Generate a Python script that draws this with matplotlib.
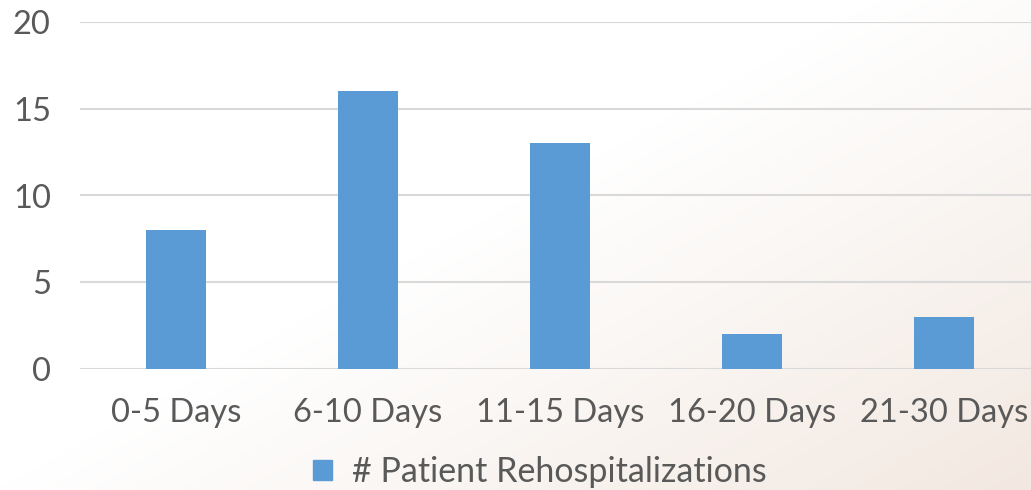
import numpy as np
import matplotlib
matplotlib.use("Agg")
import matplotlib.pyplot as plt
from matplotlib.patches import Patch

categories = ["0-5 Days", "6-10 Days", "11-15 Days", "16-20 Days", "21-30 Days"]
rehosp = [8, 16, 13, 2, 3]
yticks = [0, 5, 10, 15, 20]

plt.rcParams["font.family"] = ["Lato", "DejaVu Sans"]
text_col = "#595959"

fig = plt.figure(figsize=(10.31, 4.9), dpi=100)

# soft background gradient (white -> warm tint toward bottom right)
bg = fig.add_axes([0, 0, 1, 1], zorder=-10)
yy, xx = np.mgrid[0:1:200j, 0:1:400j]  # yy=0 top row, yy=1 bottom row
t = np.clip((xx * 0.7 + yy * 0.6) - 0.6, 0, 1) / 0.7
c0 = np.array([1.0, 1.0, 1.0])
c1 = np.array([0.95, 0.91, 0.88])
img = c0 + (c1 - c0) * t[..., None]
bg.imshow(img, aspect="auto", extent=[0, 1, 0, 1], origin="upper")
bg.axis("off")

ax = fig.add_axes([80 / 1031, 121 / 490, 960 / 1031, 347 / 490])
ax.patch.set_alpha(0)
x = np.arange(len(categories))
ax.bar(x, rehosp, width=0.31, color="#5B9BD5", zorder=3)
ax.set_xlim(-0.5, len(categories) - 0.5)
ax.set_ylim(0, 20)
ax.set_yticks(yticks)
ax.set_xticks(x)
ax.set_xticklabels(categories)
ax.grid(axis="y", color="#D9D9D9", linewidth=1.5, zorder=0)
for s in ax.spines.values():
    s.set_visible(False)
ax.tick_params(length=0, colors=text_col, labelsize=23.5)
ax.tick_params(axis="y", pad=21)
ax.tick_params(axis="x", pad=21)

fig.legend(handles=[Patch(color="#5B9BD5", label="# Patient Rehospitalizations")],
           loc="center", bbox_to_anchor=(540 / 1031, 1 - 472 / 490), frameon=False,
           fontsize=24.5, labelcolor=text_col, handlelength=0.55, handleheight=0.55,
           handletextpad=0.6)

fig.savefig("out.png", dpi=100)
